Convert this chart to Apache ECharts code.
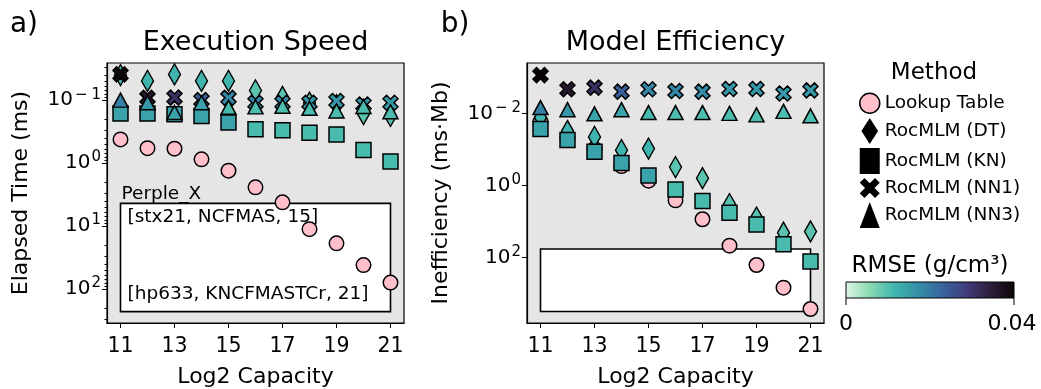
<!DOCTYPE html>
<html>
<head>
<meta charset="utf-8">
<script src="https://cdn.jsdelivr.net/npm/echarts@6/dist/echarts.min.js"></script>
<style>
  html, body { margin: 0; padding: 0; background: #fff; }
  #chart { width: 1041px; height: 389px; }
</style>
</head>
<body>
<div id="chart"></div>
<script>
// data
var capacity = [11, 12, 13, 14, 15, 16, 17, 18, 19, 20, 21];

// a) elapsed time (ms)
var lookupTime = [0.42, 0.58, 0.59, 0.87, 1.32, 2.43, 4.2, 11.2, 18.8, 41.7, 79];
var dtTime     = [0.040, 0.0495, 0.039, 0.0495, 0.0495, 0.07, 0.089, 0.11, 0.12, 0.166, 0.178];
var knTime     = [0.163, 0.163, 0.167, 0.178, 0.227, 0.29, 0.30, 0.33, 0.35, 0.62, 0.94];
var nn1Time    = [0.039, 0.092, 0.091, 0.10, 0.092, 0.11, 0.11, 0.11, 0.103, 0.117, 0.11];
var nn3Time    = [0.10, 0.11, 0.157, 0.11, 0.13, 0.128, 0.125, 0.135, 0.149, 0.126, 0.153];

// b) inefficiency (ms*Mb)
var lookupEff = [0.017, 0.048, 0.097, 0.29, 0.74, 2.6, 8.7, 47, 162, 690, 2700];
var dtEff     = [0.013, 0.031, 0.045, 0.105, 0.095, 0.31, 0.63, 3.3, 7.8, 20.6, 19];
var knEff     = [0.027, 0.055, 0.116, 0.24, 0.53, 1.3, 2.7, 5.7, 12.2, 43, 129];
var nn1Eff    = [0.00087, 0.00214, 0.00193, 0.0025, 0.00214, 0.0024, 0.0025, 0.0021, 0.0021, 0.0028, 0.0023];
var nn3Eff    = [0.0069, 0.0079, 0.0103, 0.0079, 0.0095, 0.0095, 0.0095, 0.010, 0.011, 0.0088, 0.0117];

// RMSE (g/cm3), used for the colour of the RocMLM markers
var dtRmse  = [0.012, 0.012, 0.012, 0.012, 0.012, 0.0095, 0.0095, 0.0095, 0.0095, 0.0095, 0.0095];
var knRmse  = [0.0144, 0.0144, 0.0144, 0.0144, 0.0144, 0.0108, 0.0108, 0.0108, 0.0108, 0.0108, 0.0108];
var nn1Rmse = [0.04, 0.036, 0.031, 0.024, 0.0185, 0.0185, 0.018, 0.016, 0.016, 0.016, 0.016];
var nn3Rmse = [0.019, 0.016, 0.0145, 0.0145, 0.011, 0.0105, 0.0105, 0.0105, 0.0105, 0.0105, 0.0105];

// Perple_X range boxes
var perplexTime = [4.37, 229];
var perplexEff  = [58.5, 3160];

var ticksA = [0.1, 1, 10, 100];
var minorA = [0.03, 0.04, 0.05, 0.06, 0.07, 0.08, 0.09, 0.2, 0.3, 0.4, 0.5, 0.6, 0.7, 0.8, 0.9,
              2, 3, 4, 5, 6, 7, 8, 9, 20, 30, 40, 50, 60, 70, 80, 90, 200, 300];
var ticksB = [0.01, 1, 100];
var xTicks = [11, 13, 15, 17, 19, 21];

var makoR = ['#def5e5', '#8bdab2', '#40b7ad', '#348fa7', '#37659e', '#413d7b', '#2e1e3b', '#0b0405'];

var FONT = 'DejaVu Sans';
var chart = echarts.init(document.getElementById('chart'));

var xPath = 'path://M0,23.6 L23.6,0 L50,26.4 L76.4,0 L100,23.6 L73.6,50 L100,76.4 L76.4,100 L50,73.6 L23.6,100 L0,76.4 L26.4,50 Z';
var dPath = 'path://M32,0 L64,50 L32,100 L0,50 Z';

function pts(vals, rm) {
    return capacity.map(function (c, i) { return rm ? [c, vals[i], rm[i]] : [c, vals[i]]; });
}

// 10^n tick label, mathtext-like spacing around the minus sign
function sup(v) {
    var e = Math.round(Math.log10(v));
    if (e < 0) return '{b|10}{m|\u2212}{s|' + (-e) + '}';
    return '{b|10}{s|' + e + '}';
}

function xAxis(grid) {
    return {
        type: 'value', gridIndex: grid, min: 10.5, max: 21.5,
        name: 'Log2 Capacity', nameLocation: 'middle', nameGap: 43,
        nameTextStyle: { fontSize: 22, fontFamily: FONT, color: '#000' },
        axisLine: { show: true, lineStyle: { color: '#000', width: 1.2 } },
        axisTick: { show: true, length: 5, customValues: xTicks, lineStyle: { color: '#000' } },
        axisLabel: { customValues: xTicks, fontSize: 20.5, fontFamily: FONT, color: '#000', margin: 13 },
        splitLine: { show: false }
    };
}

function yAxis(grid, lo, hi, name, ticks) {
    return {
        type: 'log', logBase: 10, gridIndex: grid, min: lo, max: hi, inverse: true,
        name: name, nameLocation: 'middle', nameGap: 75,
        nameTextStyle: { fontSize: 22, fontFamily: FONT, color: '#000' },
        axisLine: { show: true, lineStyle: { color: '#000', width: 1.2 } },
        axisTick: { show: true, length: 5, customValues: ticks, lineStyle: { color: '#000' } },
        axisLabel: {
            customValues: ticks, margin: 6, formatter: sup,
            rich: {
                b: { fontSize: 20, fontFamily: FONT, color: '#000' },
                m: { fontSize: 15, fontFamily: FONT, color: '#000', padding: [0, 3, 11, 2] },
                s: { fontSize: 15, fontFamily: FONT, color: '#000', padding: [0, 0, 11, 1] }
            }
        },
        splitLine: { show: false }
    };
}

function scatter(name, grid, data, symbol, size, extra) {
    var s = {
        name: name, type: 'scatter', xAxisIndex: grid, yAxisIndex: grid === 0 ? 0 : 2,
        data: data, symbol: symbol, symbolSize: size, z: 2,
        itemStyle: { borderColor: '#000', borderWidth: 1.5, opacity: 1 },
        emphasis: { disabled: true }
    };
    if (extra) s.itemStyle.color = extra;
    return s;
}

function boxSeries(grid, range, texts) {
    return {
        type: 'custom', xAxisIndex: grid, yAxisIndex: grid === 0 ? 0 : 2, z: 1, silent: true,
        data: [[11, range[0], 21, range[1]]],
        encode: { x: [0, 2], y: [1, 3] },
        renderItem: function (params, api) {
            var p1 = api.coord([api.value(0), api.value(1)]);
            var p2 = api.coord([api.value(2), api.value(3)]);
            var kids = [];
            var st = { fontSize: 18.5, fontFamily: FONT, fill: '#000', verticalAlign: 'middle', align: 'left' };
            if (texts) {
                // label above the box goes first so the box edge sits over its underscore
                kids.push({ type: 'text', z2: 1, style: Object.assign({ text: texts[0], x: p1[0] + 1, y: p1[1] - 9 }, st) });
            }
            kids.push({
                type: 'rect', z2: 2,
                shape: { x: p1[0], y: p1[1], width: p2[0] - p1[0], height: p2[1] - p1[1] },
                style: { fill: '#fff', stroke: '#000', lineWidth: 1.6 }
            });
            if (texts) {
                kids.push({ type: 'text', z2: 10, style: Object.assign({ text: texts[1], x: p1[0] + 7, y: p1[1] + 14 }, st) });
                kids.push({ type: 'text', z2: 10, style: Object.assign({ text: texts[2], x: p1[0] + 7, y: p2[1] - 17 }, st) });
            }
            return { type: 'group', children: kids };
        }
    };
}

var legendNames = ['Lookup Table', 'RocMLM (DT)', 'RocMLM (KN)', 'RocMLM (NN1)', 'RocMLM (NN3)'];

var cbStops = makoR.map(function (c, i) { return { offset: i / (makoR.length - 1), color: c }; });

function txt(s, x, y, size, align) {
    return {
        type: 'text', x: x, y: y, silent: true,
        style: { text: s, fontSize: size, fontFamily: FONT, fill: '#000', align: align || 'center', verticalAlign: 'middle' }
    };
}

var option = {
    animation: false,
    backgroundColor: '#fff',
    textStyle: { fontFamily: FONT },
    grid: [
        { left: 107, top: 63, width: 297, height: 260, outerBoundsMode: 'none', containLabel: false,
          show: true, backgroundColor: '#e5e5e5', borderColor: '#000', borderWidth: 1.2 },
        { left: 527, top: 63, width: 297, height: 260, outerBoundsMode: 'none', containLabel: false,
          show: true, backgroundColor: '#e5e5e5', borderColor: '#000', borderWidth: 1.2 }
    ],
    xAxis: [xAxis(0), xAxis(1)],
    yAxis: [
        yAxis(0, 0.0257, 347, 'Elapsed Time (ms)', ticksA),
        {
            type: 'log', logBase: 10, gridIndex: 0, min: 0.0257, max: 347, inverse: true, position: 'left',
            axisLine: { show: false },
            axisTick: { show: true, length: 2.5, customValues: minorA, lineStyle: { color: '#000' } },
            axisLabel: { show: false }, splitLine: { show: false }
        },
        yAxis(1, 0.0004, 6600, 'Inefficiency (ms\u00b7Mb)', ticksB)
    ],
    visualMap: {
        type: 'continuous', show: false, min: 0, max: 0.04, dimension: 2,
        seriesIndex: [1, 2, 3, 4, 7, 8, 9, 10],
        inRange: { color: makoR }
    },
    legend: {
        orient: 'vertical', left: 854, top: 87.5, itemWidth: 20, itemHeight: 26, itemGap: 4,
        selectedMode: false, symbolKeepAspect: true,
        textStyle: { fontSize: 18.5, fontFamily: FONT, color: '#000' },
        data: [
            { name: legendNames[0], icon: 'circle', itemStyle: { color: '#ffc0cb', borderColor: '#000', borderWidth: 1.5 } },
            { name: legendNames[1], icon: dPath, itemStyle: { color: '#000', borderWidth: 0 } },
            { name: legendNames[2], icon: 'rect', itemStyle: { color: '#000', borderWidth: 0 } },
            { name: legendNames[3], icon: xPath, itemStyle: { color: '#000', borderWidth: 0 } },
            { name: legendNames[4], icon: 'triangle', itemStyle: { color: '#000', borderWidth: 0 } }
        ]
    },
    series: [
        scatter(legendNames[0], 0, pts(lookupTime), 'circle', 14.5, '#ffc0cb'),
        scatter(legendNames[1], 0, pts(dtTime, dtRmse), dPath, [12, 21]),
        scatter(legendNames[2], 0, pts(knTime, knRmse), 'rect', 15),
        scatter(legendNames[3], 0, pts(nn1Time, nn1Rmse), xPath, 15),
        scatter(legendNames[4], 0, pts(nn3Time, nn3Rmse), 'triangle', [15, 14]),
        boxSeries(0, perplexTime, ['Perple_X', '[stx21, NCFMAS, 15]', '[hp633, KNCFMASTCr, 21]']),
        scatter(legendNames[0], 1, pts(lookupEff), 'circle', 14.5, '#ffc0cb'),
        scatter(legendNames[1], 1, pts(dtEff, dtRmse), dPath, [12, 21]),
        scatter(legendNames[2], 1, pts(knEff, knRmse), 'rect', 15),
        scatter(legendNames[3], 1, pts(nn1Eff, nn1Rmse), xPath, 15),
        scatter(legendNames[4], 1, pts(nn3Eff, nn3Rmse), 'triangle', [15, 14]),
        boxSeries(1, perplexEff, null)
    ],
    graphic: [
        txt('a)', 24, 25, 28),
        txt('b)', 455, 25, 28),
        txt('Execution Speed', 255.5, 43, 27),
        txt('Model Efficiency', 675.5, 43, 27),
        txt('Method', 934, 73, 23),
        txt('RMSE (g/cm\u00b3)', 930, 266, 23),
        {
            type: 'rect', silent: true,
            shape: { x: 846, y: 282, width: 168, height: 16 },
            style: { fill: new echarts.graphic.LinearGradient(0, 0, 1, 0, cbStops), stroke: '#000', lineWidth: 1 }
        },
        { type: 'line', silent: true, shape: { x1: 846, y1: 298, x2: 846, y2: 305 }, style: { stroke: '#000', lineWidth: 1 } },
        { type: 'line', silent: true, shape: { x1: 1014, y1: 298, x2: 1014, y2: 305 }, style: { stroke: '#000', lineWidth: 1 } },
        txt('0', 846, 324, 22),
        txt('0.04', 1012, 324, 22)
    ]
};

chart.setOption(option);
</script>
</body>
</html>
